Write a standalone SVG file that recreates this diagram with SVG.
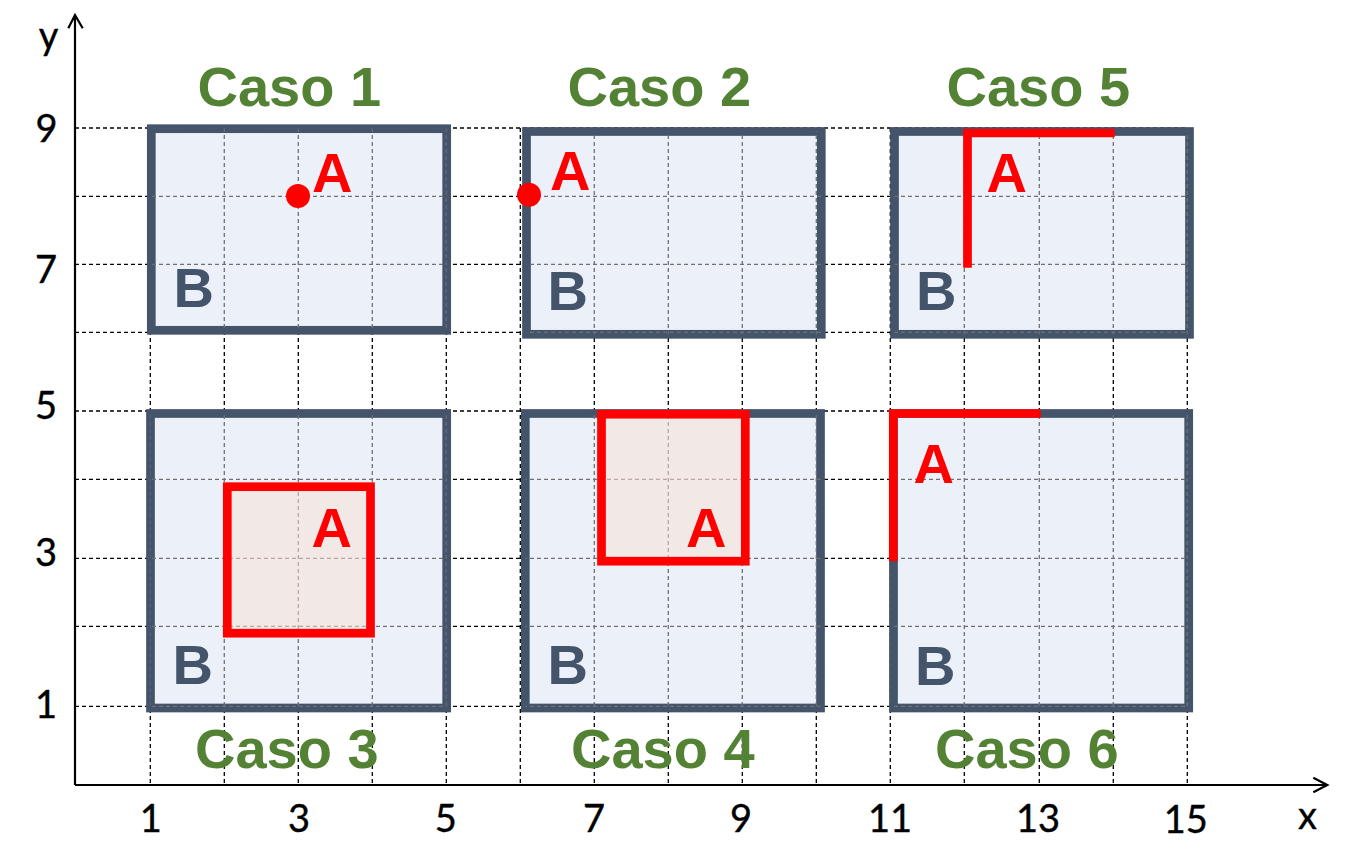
<svg xmlns="http://www.w3.org/2000/svg" xmlns:xlink="http://www.w3.org/1999/xlink" width="1354" height="868" viewBox="0 0 1354 868">
<style>
.box{fill:#ECF0F8;stroke:#44546A;stroke-width:8.7}
.rsq{fill:#F8E2D4;fill-opacity:0.5;stroke:#FF0000;stroke-width:8.7}
.rl{fill:none;stroke:#FF0000;stroke-width:8.7;stroke-linejoin:miter;stroke-linecap:butt}
.dot{fill:#FF0000}
.lblA{font-family:"Liberation Sans",Arial,sans-serif;font-weight:bold;font-size:56px;fill:#FF0000}
.lblB{font-family:"Liberation Sans",Arial,sans-serif;font-weight:bold;font-size:56px;fill:#44546A}
.title{font-family:"Liberation Sans",Arial,sans-serif;font-weight:bold;font-size:56px;fill:#548235}
.tick{font-family:Lato,"DejaVu Sans",sans-serif;font-size:38px;fill:#000;text-anchor:middle;stroke:#000;stroke-width:0.4}
.axis{fill:none;stroke:#000;stroke-width:2.2}
</style>
<defs>
<g id="gridlines" fill="none" stroke-width="1.3" stroke-dasharray="4 3">
<path d="M75,128H1187M75,196.3H1187M75,264.3H1187M75,332.3H1187M75,411H1187M75,479.3H1187M75,558.3H1187M75,626.3H1187M75,706.3H1187"/>
<path d="M150.3,128V785M224.3,128V785M298.3,128V785M372.3,128V785M446.3,128V785M520.3,128V785M594.3,128V785M668.3,128V785M742.3,128V785M816.3,128V785M890.3,128V785M964.3,128V785M1039.3,128V785M1113.3,128V785M1187.3,128V785"/>
</g>
<clipPath id="boxclip">
<rect x="151.3" y="128.7" width="295.4" height="201.6"/>
<rect x="526.5" y="131.5" width="294.8" height="202.8"/>
<rect x="894.5" y="131.5" width="295" height="202.8"/>
<rect x="150.5" y="413.5" width="296.2" height="294.5"/>
<rect x="525.3" y="413.5" width="295.2" height="294.5"/>
<rect x="893.5" y="413.5" width="295.2" height="294.5"/>
</clipPath>
</defs>
<rect width="1354" height="868" fill="#FFFFFF"/>
<use xlink:href="#gridlines" href="#gridlines" stroke="#000000"/>
<g id="case1-box"><rect class="box" x="151.3" y="128.7" width="295.4" height="201.6"/></g>
<g id="case2-box"><rect class="box" x="526.5" y="131.5" width="294.8" height="202.8"/></g>
<g id="case5-box"><rect class="box" x="894.5" y="131.5" width="295" height="202.8"/></g>
<g id="case3-box"><rect class="box" x="150.5" y="413.5" width="296.2" height="294.5"/></g>
<g id="case4-box"><rect class="box" x="525.3" y="413.5" width="295.2" height="294.5"/></g>
<g id="case6-box"><rect class="box" x="893.5" y="413.5" width="295.2" height="294.5"/></g>
<use xlink:href="#gridlines" href="#gridlines" stroke="#707070" clip-path="url(#boxclip)"/>
<g id="axes">
<path class="axis" d="M75,785V15M68.3,28.3L75,15L82.7,28.3"/>
<path class="axis" d="M75,785H1327M1313.3,777.7L1327.3,785L1313.3,792.3"/>
<text class="tick" x="48.5" y="49">y</text>
<text class="tick" x="1307.5" y="829.3">x</text>
<text class="tick" x="46.5" y="141.7">9</text>
<text class="tick" x="46" y="283.3">7</text>
<text class="tick" x="46" y="419.3">5</text>
<text class="tick" x="46" y="566">3</text>
<text class="tick" x="46" y="718.3">1</text>
<text class="tick" x="150.8" y="831.7">1</text>
<text class="tick" x="299" y="831.7">3</text>
<text class="tick" x="445.7" y="831.7">5</text>
<text class="tick" x="594" y="831.7">7</text>
<text class="tick" x="741" y="831.7">9</text>
<text class="tick" x="890" y="831.7">11</text>
<text class="tick" x="1038" y="831.7">13</text>
<text class="tick" x="1185.7" y="833.3">15</text>
</g>
<g id="case1">
<text class="title" x="197.5" y="106">Caso 1</text>
<circle class="dot" cx="298" cy="196" r="12"/>
<text class="lblA" x="312" y="192">A</text>
<text class="lblB" x="173.5" y="306.7">B</text>
</g>
<g id="case2">
<text class="title" x="567.5" y="106">Caso 2</text>
<circle class="dot" cx="529" cy="194.7" r="12"/>
<text class="lblA" x="550" y="190">A</text>
<text class="lblB" x="547.5" y="310">B</text>
</g>
<g id="case5">
<text class="title" x="946.5" y="106">Caso 5</text>
<path class="rl" d="M967.5,267.7V133H1114.7"/>
<text class="lblA" x="986.5" y="191.7">A</text>
<text class="lblB" x="916" y="310">B</text>
</g>
<g id="case3">
<text class="title" x="195" y="768.3">Caso 3</text>
<rect class="rsq" x="227.3" y="486.7" width="143.2" height="146.5"/>
<text class="lblA" x="311.5" y="546.7">A</text>
<text class="lblB" x="172.5" y="684">B</text>
</g>
<g id="case4">
<text class="title" x="571" y="768.3">Caso 4</text>
<rect class="rsq" x="601.5" y="414.2" width="143.8" height="147"/>
<text class="lblA" x="686" y="546.7">A</text>
<text class="lblB" x="547.5" y="684">B</text>
</g>
<g id="case6">
<text class="title" x="935" y="768.3">Caso 6</text>
<path class="rl" d="M893.3,561.3V413.5H1040.7"/>
<text class="lblA" x="913.5" y="482.7">A</text>
<text class="lblB" x="915" y="684.7">B</text>
</g>
</svg>
